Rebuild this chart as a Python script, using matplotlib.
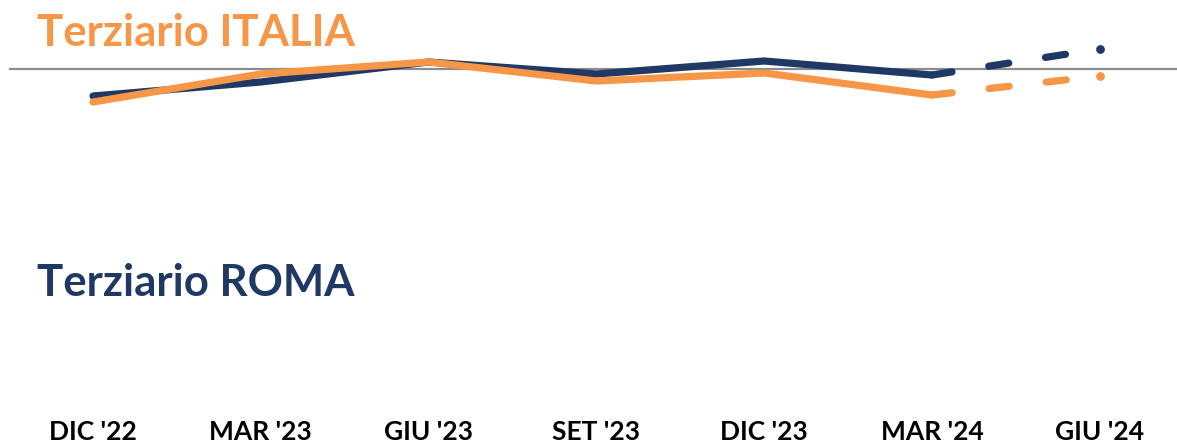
import matplotlib
matplotlib.use("Agg")
import matplotlib.pyplot as plt

# categorie (trimestri)
periods = ["DIC '22", "MAR '23", "GIU '23", "SET '23", "DIC '23", "MAR '24", "GIU '24"]

# valori (scala arbitraria, 0 = linea grigia)
roma = [-2.75, -1.35, 0.65, -0.55, 0.75, -0.65, 1.95]
italia = [-3.35, -0.55, 0.65, -1.25, -0.45, -2.65, -0.75]

NAVY = "#1F3864"
ORANGE = "#F79646"
FONT = "Lato"

fig = plt.figure(figsize=(11.77, 4.43), dpi=100)
ax = fig.add_axes([0, 0, 1, 1])

x = list(range(len(periods)))
n_solid = 6  # fino a MAR '24 linea continua, poi tratteggiata

for values, color, z in [(roma, NAVY, 2), (italia, ORANGE, 3)]:
    ax.plot(x[:n_solid], values[:n_solid], color=color, lw=5.2,
            solid_capstyle="round", solid_joinstyle="miter", zorder=z)
    ax.plot(x[n_solid - 1:], values[n_solid - 1:], color=color, lw=5.2,
            dashes=(2.8, 5.15), dash_capstyle="round", zorder=z)
    # punto finale (stima GIU '24)
    ax.plot(x[-1], values[-1], marker="o", ms=6.3, mew=0, color=color, zorder=z)

# linea di riferimento grigia
ax.axhline(0, xmin=10 / 1177, xmax=1, color="#8c8c8c", lw=1.6, zorder=1)

# scala: 167.8 px per trimestre, 10 px per unità
ax.set_xlim(-93 / 167.8, (1177 - 93) / 167.8)
ax.set_ylim(6.85 - 44.3, 6.85)
ax.axis("off")

# etichette asse x
for xi, lab in zip(x, periods):
    ax.text(xi, 1 - 440 / 443, lab, transform=ax.get_xaxis_transform(),
            ha="center", va="baseline", fontsize=19, fontweight="bold",
            color="black", family=FONT)

fig.text(37 / 1177, 1 - 46 / 443, "Terziario ITALIA", ha="left", va="baseline",
         fontsize=31.5, fontweight="bold", color=ORANGE, family=FONT)
fig.text(37 / 1177, 1 - 296 / 443, "Terziario ROMA", ha="left", va="baseline",
         fontsize=31.5, fontweight="bold", color=NAVY, family=FONT)

fig.savefig("out.png", dpi=100)
